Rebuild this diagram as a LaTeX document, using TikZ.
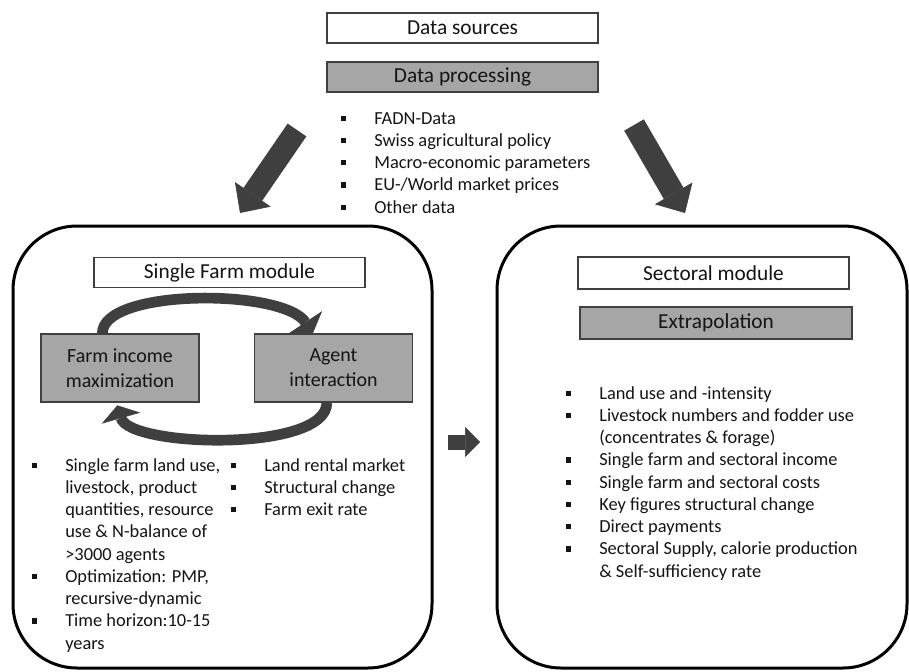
\documentclass[tikz,border=0pt]{standalone}
\usepackage{fontspec}
\setmainfont{Carlito}
\usetikzlibrary{arrows.meta}
\definecolor{boxgray}{HTML}{A6A6A6}
\definecolor{arrowgray}{HTML}{3F3F3F}
\newcommand{\bul}{\makebox[24.75pt][l]{\raisebox{2.5pt}{\rule{3.9pt}{3.9pt}}}}
\newcommand{\ind}{\hspace*{24.75pt}}

\begin{document}
\begin{tikzpicture}[x=0.75pt, y=-0.75pt,
    every node/.style={text=black!92},
    hbox/.style={draw=black!75, line width=1pt, fill=white, inner sep=0pt,
      minimum width=203.25pt, minimum height=22.5pt,
      font=\fontsize{16}{19}\selectfont},
    gbox/.style={hbox, fill=boxgray},
    task/.style={draw=black!75, line width=1pt, fill=boxgray, align=center,
      minimum width=118.5pt, minimum height=51pt, inner sep=0pt,
      font=\fontsize{15}{18.75}\selectfont},
    module/.style={draw=black, line width=2.25pt, rounded corners=48pt,
      minimum width=#1, minimum height=331.5pt},
    items/.style={anchor=north west, align=left, inner sep=0pt,
      font=\fontsize{13.8}{16.7}\selectfont},
    fat/.style n args={3}{draw=arrowgray, line width=#1,
      -{Triangle[width=#2, length=#3, line width=0.5pt]}},
    swing/.style={fat={8pt}{30pt}{10pt}}]
      \useasboundingbox (0,0) rectangle (909,671);

      \path
      (462.5,28) node[hbox](src){Data sources}
      (462.5,77) node[gbox](proc){Data processing}
      (341,112) node[items](inputs){\bul FADN-Data\\
        \bul Swiss agricultural policy\\
        \bul Macro-economic parameters\\
        \bul EU-/World market prices\\
        \bul Other data};

      \path
      (222.5,447) node[module=314.25pt](farm){}
      (229.5,272.5) node[hbox](sfm){Single Farm module}
      (120,368) node[task](fim){Farm income\\maximization}
      (333.5,368) node[task](agent){Agent\\interaction}
      (32,458) node[items](farmout){\bul Single farm land use,\\
        \ind livestock, product\\
        \ind quantities, resource\\
        \ind use \& N-balance of\\
        \ind >3000 agents\\
        \bul Optimization: PMP,\\
        \ind recursive-dynamic\\
        \bul Time horizon:10-15\\
        \ind years}
      (231,458) node[items](agentout){\bul Land rental market\\
        \bul Structural change\\
        \bul Farm exit rate};
      \draw[swing] ([xshift=46.5pt]fim.north west) .. controls +(0,-45) and +(-30,-45) .. ([xshift=44.25pt]agent.north west);
      \draw[swing] ([xshift=54.75pt]agent.south west) .. controls +(0,50) and +(12,42) .. ([xshift=57.75pt, yshift=-2pt]fim.south west);

      \path
      (702,447) node[module=307.5pt](sect){}
      (713.5,273) node[hbox, minimum height=24pt](secm){Sectoral module}
      (716,323) node[gbox, minimum width=204pt, minimum height=24pt](extra){Extrapolation}
      (566,386) node[items](sectout){\bul Land use and -intensity\\
        \bul Livestock numbers and fodder use\\
        \ind (concentrates \& forage)\\
        \bul Single farm and sectoral income\\
        \bul Single farm and sectoral costs\\
        \bul Key figures structural change\\
        \bul Direct payments\\
        \bul Sectoral Supply, calorie production\\
        \ind \& Self-sufficiency rate};

      \coordinate (lt) at (297,130);
      \coordinate (lh) at (240,213);
      \coordinate (rt) at (634,125);
      \coordinate (rh) at (685,213);
      \coordinate (mt) at (448,442);
      \coordinate (mh) at (480,442);
      \draw[fat={17pt}{32.5pt}{17pt}] (lt) -- (lh);
      \draw[fat={17pt}{32.5pt}{17pt}] (rt) -- (rh);
      \draw[fat={11.25pt}{22.5pt}{11.25pt}] (mt) -- (mh);
    \end{tikzpicture}
\end{document}
